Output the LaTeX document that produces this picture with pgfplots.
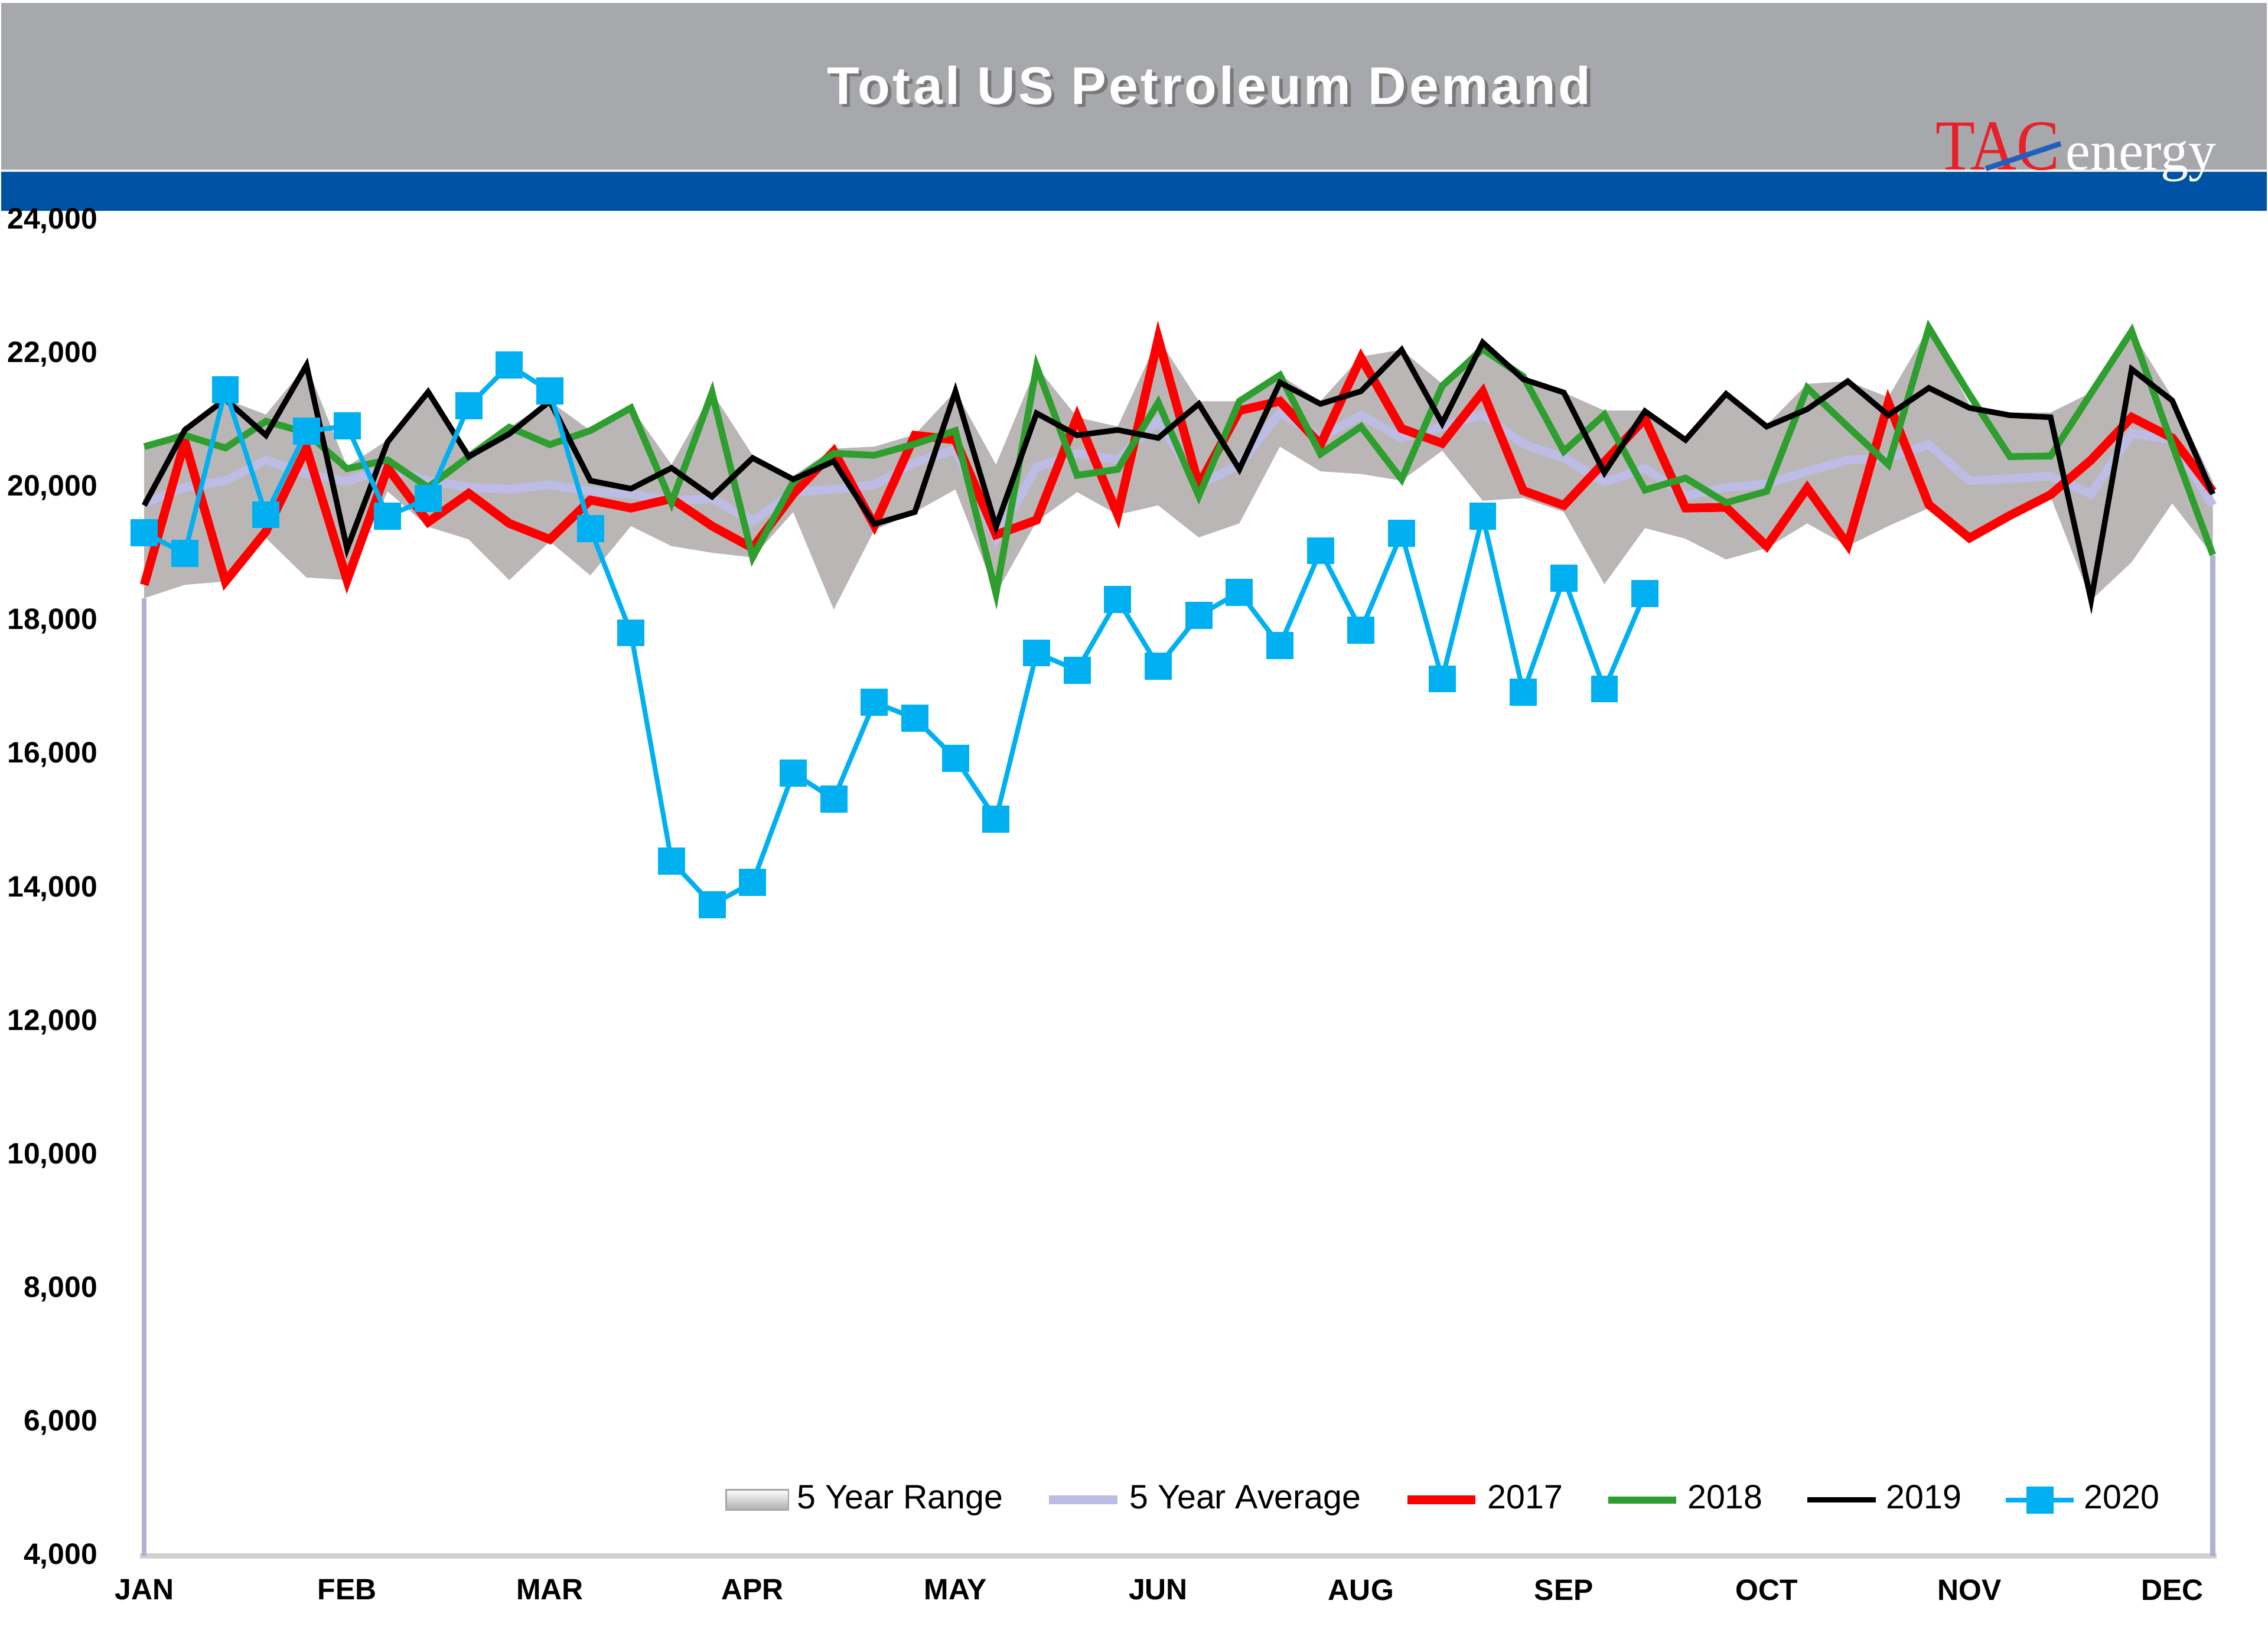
\documentclass[border=0pt]{standalone}
\usepackage{fontspec}
\setmainfont{Liberation Sans}
\newfontfamily\logofont{Liberation Serif}
\usepackage{pgfplots}
\usepackage{pgfplotstable}
\pgfplotsset{compat=1.18}

\definecolor{bannergray}{HTML}{A7A8AC}
\definecolor{bandblue}{HTML}{0053A4}
\definecolor{rangegray}{HTML}{BAB6B6}
\definecolor{avgcol}{HTML}{BCBCE4}
\definecolor{c17}{HTML}{FF0000}
\definecolor{c18}{HTML}{2E9E2E}
\definecolor{c20}{HTML}{00B0F0}
\definecolor{tacred}{HTML}{E8202A}
\definecolor{tacblue}{HTML}{1F5FBF}

\pgfplotstableread{
w avg y17 y18 y19
0 19770 18550 20620 19740
1 20010 20700 20790 20870
2 20110 18600 20600 21330
3 20420 19350 21000 20790
4 20210 20600 20830 21840
5 20100 18620 20290 19090
6 20300 20300 20420 20690
7 20110 19490 20010 21440
8 20010 19920 20470 20470
9 19980 19470 20910 20810
10 20050 19230 20650 21300
11 19950 19820 20860 20110
12 19910 19700 21200 19990
13 19810 19840 19780 20300
14 19840 19430 21430 19870
15 19500 19100 18960 20450
16 19940 19910 20090 20130
17 19980 20550 20520 20400
18 20050 19440 20490 19460
19 20380 20790 20660 19640
20 20580 20720 20860 21450
21 19250 19300 18420 19420
22 20310 19520 21820 21120
23 20520 21060 20190 20790
24 20420 19600 20280 20870
25 21020 22240 21280 20750
26 20040 20040 19880 21260
27 20350 21160 21300 20280
28 21130 21300 21690 21580
29 20750 20650 20510 21260
30 21090 21950 20920 21450
31 20750 20890 20130 22070
32 20920 20670 21530 20970
33 21100 21440 22080 22180
34 20660 19960 21670 21630
35 20450 19740 20550 21430
36 20090 20390 21100 20230
37 20290 21040 19970 21150
38 19880 19700 20150 20720
39 20010 19710 19780 21410
40 20060 19130 19950 20920
41 20250 20000 21500 21180
42 20420 19150 20920 21600
43 20450 21280 20350 21090
44 20650 19750 22400 21500
45 20110 19250 21400 21200
46 20140 19590 20470 21090
47 20180 19900 20480 21060
48 19910 20420 21420 18320
49 20820 21060 22350 21780
50 20720 20750 20650 21310
51 19740 19950 19000 19910
}\tbl

% 5-year range: upper bound weeks 0..51, then lower bound weeks 51..0
\pgfplotstableread{
w v
0 20620
1 20870
2 21330
3 21100
4 21840
5 20320
6 20720
7 21440
8 20500
9 20910
10 21300
11 20860
12 21210
13 20350
14 21430
15 20490
16 20180
17 20590
18 20620
19 20800
20 21450
21 20350
22 21820
23 21060
24 20920
25 22240
26 21300
27 21300
28 21690
29 21300
30 21970
31 22070
32 21560
33 22180
34 21650
35 21430
36 21160
37 21160
38 20760
39 21410
40 20940
41 21560
42 21600
43 21360
44 22400
45 21250
46 21130
47 21130
48 21430
49 22350
50 21360
51 20100
51 18990
50 19770
49 18890
48 18320
47 19870
46 19570
45 19240
44 19700
43 19430
42 19130
41 19470
40 19100
39 18930
38 19240
37 19400
36 18560
35 19640
34 19850
33 19810
32 20560
31 20110
30 20210
29 20250
28 20620
27 19470
26 19260
25 19740
24 19600
23 19940
22 19500
21 18420
20 19980
19 19640
18 19370
17 18180
16 19640
15 18960
14 19030
13 19130
12 19430
11 18690
10 19200
9 18620
8 19230
7 19420
6 19950
5 18620
4 18660
3 19250
2 18600
1 18550
0 18350
}\rng

\pgfplotstableread{
w y20
0 19330
1 19020
2 21470
3 19600
4 20850
5 20930
6 19580
7 19840
8 21230
9 21840
10 21450
11 19390
12 17830
13 14410
14 13760
15 14090
16 15730
17 15340
18 16790
19 16550
20 15950
21 15040
22 17530
23 17270
24 18330
25 17330
26 18090
27 18440
28 17640
29 19060
30 17870
31 19320
32 17140
33 19580
34 16940
35 18650
36 16990
37 18420
}\tblb

\begin{document}
\begin{tikzpicture}
\path (0,0) rectangle (20,14.528);
\fill[bannergray] (0,13.02) rectangle (20,14.50);
\fill[bandblue] (0,12.666) rectangle (20,13.02);
\draw[white!80!bannergray, line width=0.6pt] (0,13.02) -- (20,13.02);
% title
\node[anchor=base, text=black!60, opacity=0.7, font=\bfseries\fontsize{13.3}{16}\selectfont\addfontfeatures{LetterSpace=5}] at (10.69,13.58) {Total US Petroleum Demand};
\node[anchor=base, text=white, font=\bfseries\fontsize{13.3}{16}\selectfont\addfontfeatures{LetterSpace=5}] at (10.66,13.61) {Total US Petroleum Demand};
% logo
\node[anchor=base west, inner sep=0pt, text=tacred, font=\logofont\fontsize{18}{20}\selectfont, xscale=0.9] at (17.07,13.03) {TAC};
\node[anchor=base west, inner sep=0pt, text=white, font=\logofont\fontsize{14}{16}\selectfont] at (18.22,13.03) {energy};
\draw[tacblue, line width=1.3pt] (17.52,13.04) -- (18.18,13.26);
\begin{axis}[
  at={(1.227cm,0.791cm)}, anchor=south west,
  scale only axis, width=18.332cm, height=11.786cm,
  xmin=-0.1, xmax=51.1, ymin=4000, ymax=24000,
  xtick={0,5,...,50},
  xticklabels={JAN,FEB,MAR,APR,MAY,JUN,AUG,SEP,OCT,NOV,DEC},
  ytick={4000,6000,...,24000},
  scaled y ticks=false,
  axis x line*=bottom, axis y line*=left,
  y axis line style={draw=none},
  x axis line style={draw=black!18, line width=1.4pt},
  major tick length=0pt,
  tick label style={font=\bfseries\fontsize{7.4}{9}\selectfont},
  yticklabel style={anchor=east, inner sep=0pt, xshift=-0.37cm},
  xticklabel style={anchor=north, inner sep=0pt, yshift=-0.2cm},
  /pgf/number format/1000 sep={,},
  /pgf/number format/assume math mode=true,
  legend columns=6,
  legend style={at={(0.629,0.042)}, anchor=center, draw=none, fill=none,
    font=\fontsize{8.5}{10}\selectfont,
    /tikz/every even column/.append style={column sep=0.3cm}},
  legend cell align=left,
]
\addplot[fill=rangegray, draw=none,
  legend image code/.code={\shade[top color=white, bottom color=gray!65, draw=gray!70] (0cm,-0.09cm) rectangle (0.55cm,0.09cm);}]
  table[x=w,y=v]{\rng};
\addlegendentry{5 Year Range}
\addplot[avgcol!80!gray, line width=1.2pt, forget plot] coordinates {(0,4000) (0,18350)};
\addplot[avgcol!80!gray, line width=1.2pt, forget plot] coordinates {(51,4000) (51,18990)};
\addplot[avgcol, line width=2.2pt] table[x=w,y=avg]{\tbl};
\addlegendentry{5 Year Average}
\addplot[c17, line width=2.2pt] table[x=w,y=y17]{\tbl};
\addlegendentry{2017}
\addplot[c18, line width=1.7pt] table[x=w,y=y18]{\tbl};
\addlegendentry{2018}
\addplot[black, line width=1.4pt] table[x=w,y=y19]{\tbl};
\addlegendentry{2019}
\addplot[c20, line width=1.2pt, mark=square*, mark size=2.8pt, mark options={solid}] table[x=w,y=y20]{\tblb};
\addlegendentry{2020}
\end{axis}
\end{tikzpicture}
\end{document}
